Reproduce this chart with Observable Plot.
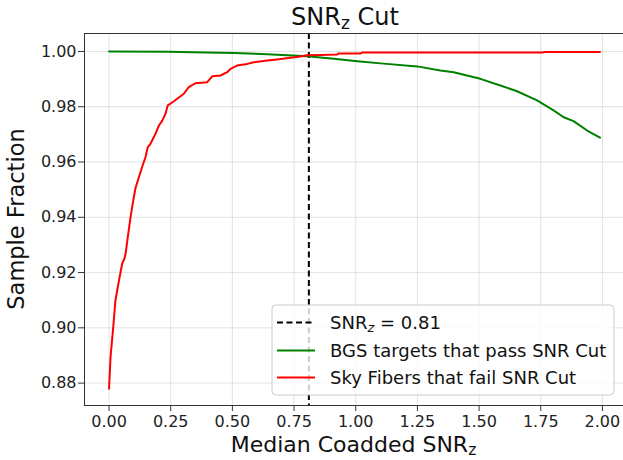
<!DOCTYPE html>
<html><head><meta charset="utf-8">
<script src="https://cdn.jsdelivr.net/npm/d3@7"></script>
<script src="https://cdn.jsdelivr.net/npm/@observablehq/plot@0.6"></script>
<style>
html,body{margin:0;padding:0;background:#fff;overflow:hidden;}
#chart{width:623px;height:460px;overflow:hidden;position:relative;}
#chart svg{display:block;max-width:none !important;}
</style></head><body><div id="chart"></div>
<script>
// Sky fibers that fail SNR cut
const skySNR = [0.000,0.006,0.017,0.026,0.040,0.053,0.062,0.067,0.076,0.087,0.097,0.107,0.134,0.148,0.157,0.168,0.188,0.202,0.216,0.229,0.238,0.263,0.303,0.323,0.350,0.398,0.418,0.452,0.479,0.492,0.519,0.560,0.587,0.641,0.681,0.735,0.776,0.803,0.857,0.925,0.931,1.020,1.026,1.755,1.769,1.990];
const skyFrac = [0.8780,0.8894,0.9003,0.9100,0.9170,0.9232,0.9250,0.9268,0.9328,0.9400,0.9455,0.9505,0.9582,0.9618,0.9654,0.9666,0.9702,0.9732,0.9750,0.9775,0.9805,0.9820,0.9847,0.9871,0.9885,0.9889,0.9910,0.9913,0.9925,0.9937,0.9949,0.9955,0.9961,0.9967,0.9971,0.9977,0.9982,0.9986,0.9987,0.9989,0.9993,0.9993,0.9996,0.9996,0.9998,0.9998];
// BGS targets that pass SNR cut
const bgsSNR = [0.000,0.236,0.506,0.641,0.722,0.803,0.911,1.006,1.113,1.249,1.343,1.397,1.505,1.586,1.654,1.735,1.802,1.843,1.883,1.938,1.990];
const bgsFrac = [1.0000,0.9999,0.9994,0.9990,0.9986,0.9983,0.9974,0.9965,0.9956,0.9946,0.9931,0.9925,0.9901,0.9877,0.9856,0.9823,0.9787,0.9762,0.9748,0.9714,0.9688];
const cutSNR = [0.81];
const xTicks = [0, 0.25, 0.5, 0.75, 1.0, 1.25, 1.5, 1.75, 2.0];
const yTicks = [0.88, 0.90, 0.92, 0.94, 0.96, 0.98, 1.00];
const xDomain = [-0.0995, 2.0895];
const yDomain = [0.8719, 1.0065];

const sky = skySNR.map((x, i) => ({x, y: skyFrac[i]}));
const bgs = bgsSNR.map((x, i) => ({x, y: bgsFrac[i]}));
const fmt = d3.format(".2f");

const plot = Plot.plot({
  width: 630, height: 460,
  marginLeft: 84, marginRight: 6, marginTop: 33, marginBottom: 55,
  style: {fontFamily: "DejaVu Sans", fontSize: "16px", color: "#222", background: "#fff", maxWidth: "none"},
  x: {domain: xDomain},
  y: {domain: yDomain},
  marks: [
    Plot.gridX(xTicks, {stroke: "#b0b0b0", strokeOpacity: 0.35, strokeWidth: 1}),
    Plot.gridY(yTicks, {stroke: "#b0b0b0", strokeOpacity: 0.35, strokeWidth: 1}),
    Plot.axisX({ticks: xTicks, tickFormat: fmt, tickSize: 6, tickPadding: 4, label: null, stroke: "#333", fontSize: 16}),
    Plot.axisY({ticks: yTicks, tickFormat: fmt, tickSize: 6, tickPadding: 2, label: null, stroke: "#333", fontSize: 16}),
    Plot.ruleX(cutSNR, {stroke: "black", strokeWidth: 2, strokeDasharray: "6,3.5"}),
    Plot.line(bgs, {x: "x", y: "y", stroke: "green", strokeWidth: 2}),
    Plot.line(sky, {x: "x", y: "y", stroke: "red", strokeWidth: 2}),
    Plot.frame({stroke: "#333", strokeWidth: 1})
  ]
});
plot.style.maxWidth = "none";
document.getElementById("chart").appendChild(plot);

const svg = d3.select(plot);
const ff = "DejaVu Sans";
// title
const t = svg.append("text").attr("x", 345).attr("y", 25).attr("text-anchor", "middle")
  .style("font-family", ff).style("font-size", "24px").attr("fill", "#111");
t.append("tspan").text("SNR");
t.append("tspan").attr("dy", 3.5).style("font-size", "17px").text("z");
t.append("tspan").attr("dy", -3.5).text(" Cut");
// x label
const xl = svg.append("text").attr("x", 353.5).attr("y", 451.5).attr("text-anchor", "middle")
  .style("font-family", ff).style("font-size", "22px").attr("fill", "#111");
xl.append("tspan").text("Median Coadded SNR");
xl.append("tspan").attr("dy", 3.5).style("font-size", "15.5px").text("z");
// y label
svg.append("text").attr("transform", "translate(24,219) rotate(-90)").attr("text-anchor", "middle")
  .style("font-family", ff).style("font-size", "22.5px").attr("fill", "#111").text("Sample Fraction");

// legend
const lg = svg.append("g").attr("text-anchor", "start");
lg.append("rect").attr("x", 272).attr("y", 305).attr("width", 342).attr("height", 90).attr("rx", 4)
  .attr("fill", "white").attr("fill-opacity", 0.8).attr("stroke", "#cccccc").attr("stroke-width", 1);
const entries = [
  {stroke: "black", dash: "6,3.5", y: 322.5, label: "cut"},
  {stroke: "green", dash: null, y: 350.5, label: "BGS targets that pass SNR Cut"},
  {stroke: "red", dash: null, y: 377.5, label: "Sky Fibers that fail SNR Cut"}
];
entries.forEach((e, i) => {
  const ln = lg.append("line").attr("x1", 277).attr("x2", 315).attr("y1", e.y).attr("y2", e.y)
    .attr("stroke", e.stroke).attr("stroke-width", 2);
  if (e.dash) ln.attr("stroke-dasharray", e.dash);
  const tx = lg.append("text").attr("x", 330).attr("y", e.y + 6.8).attr("text-anchor", "start")
    .style("font-family", ff).style("font-size", "18px").attr("fill", "#111");
  if (e.label === "cut") {
    tx.append("tspan").text("SNR");
    tx.append("tspan").attr("dy", 3).style("font-size", "13px").style("font-style", "italic").text("z");
    tx.append("tspan").attr("dy", -3).text(" = " + cutSNR[0].toFixed(2));
  } else {
    tx.text(e.label);
  }
});
</script>
</body></html>
